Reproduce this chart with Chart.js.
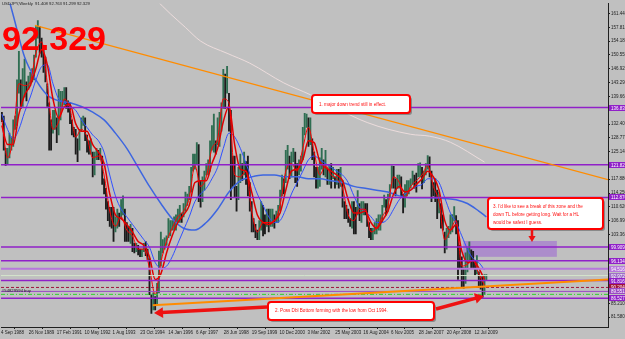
<!DOCTYPE html>
<html>
<head>
<meta charset="utf-8">
<script src="https://cdn.jsdelivr.net/npm/chart.js@4.4.0/dist/chart.umd.min.js"></script>
<style>
  html, body { margin: 0; padding: 0; background: #c0c0c0; }
  #wrap { width: 625px; height: 339px; position: relative; }
</style>
</head>
<body>
<div id="wrap"><canvas id="chart"></canvas></div>
<script>
// USDJPY weekly, sampled monthly from Sep 1988 (month 0) to Jan 2010
const highs = [
  135.5, 134.5, 126.0, 126.0,
  130, 129, 133.5, 134.5, 144, 151.5, 144, 147, 149.5, 143.5, 145, 146,
  147, 150.5, 158, 159.6, 158, 155, 152, 150, 143, 138, 133.5, 136,
  136, 134, 141.5, 141, 141, 142, 142, 138.5, 138, 133.5, 131.5, 131,
  128.5, 131, 134, 134.5, 134, 129.5, 128, 128.5, 125, 125, 126, 125.5,
  126, 124, 118, 115.5, 112, 110.5, 110.5, 110.5, 108, 110, 109, 112.5,
  113.5, 110, 106.5, 105.5, 106, 105, 101, 101, 100.5, 99.5, 99.5, 101,
  101.5, 99.5, 97, 87.5, 88, 87, 90.5, 99, 104, 102, 102.5, 103,
  107.5, 107, 107, 108, 108.5, 110, 111, 109, 111.5, 114.5, 114, 116,
  121, 124.5, 124.5, 127.5, 127, 117.5, 118.5, 120, 122, 123, 128, 132,
  135, 128, 134, 135.5, 138, 146.8, 145.5, 147.6, 140.5, 136, 124, 124,
  116, 121, 124.5, 122, 125, 122.5, 124, 117, 112, 107.5, 106, 104.5,
  107, 112, 111, 108.5, 110, 110, 110, 110, 108.5, 109.5, 111, 115,
  119, 118, 125.5, 126.8, 124, 125, 126, 125, 122, 123, 124, 131.5,
  135.2, 135, 134, 134, 128.5, 125, 121, 121, 123.5, 126, 123, 125.5,
  120.5, 121.5, 122, 121, 118.5, 120.5, 120.5, 121, 117.5, 112, 111, 110,
  107.5, 112, 112, 110.5, 114.9, 111.5, 112, 112, 111.5, 111.5, 106.5, 105,
  105, 106.5, 107.5, 108.5, 108.5, 111, 113.7, 112.5, 114, 116.5, 121.4, 121.3,
  118, 119, 119, 118.5, 114, 116.5, 117.5, 117.5, 118, 120, 119, 119.5,
  122, 122.2, 121, 120, 122, 124.1, 123.8, 120, 117, 118, 115, 114.5,
  111.5, 108.5, 104, 105, 105.5, 108.5, 108.6, 110.7, 108.3, 107, 100.5, 97.5,
  94.6, 98.5, 99.8, 101.4, 99.3, 98.9, 96.5, 97.8, 93.5, 92.3, 92.2, 92.8,
  92.8
];
const lows = [
  133.0, 125.5, 121.5, 121.8,
  123.5, 125.5, 126.5, 131, 132, 140.5, 136.5, 137, 139.5, 138.5, 141.5, 142.5,
  143.5, 144, 150, 155, 151, 150, 146, 143.5, 137, 125.5, 125.5, 130,
  131, 127.5, 129.5, 133.5, 136.5, 137.5, 136.5, 135.5, 132.5, 129.5, 129, 124.5,
  122.5, 125.5, 130.5, 132, 128, 125, 124.5, 124.5, 118.5, 119, 123, 123,
  123, 116.5, 114, 110, 107, 105.5, 105, 101.5, 104, 105, 105.5, 107.5,
  108.5, 101.5, 101.5, 101.5, 101, 98.8, 98.5, 98.8, 98, 97.5, 97.5, 98.8,
  97.8, 96.5, 87.5, 82.6, 83.5, 83.5, 85, 88, 95, 98.5, 99.5, 100.5,
  102.5, 103, 104.5, 104.5, 104.5, 106.5, 106.5, 106.5, 108, 109.5, 111, 112.5,
  114.5, 120, 120.5, 122, 112, 110.5, 112, 115, 119, 119, 120, 125.5,
  125, 124.5, 127, 126.5, 130.5, 136.5, 136.5, 140.5, 130.5, 112.5, 116, 113,
  109.5, 112.5, 117, 117.5, 119, 116.5, 113.5, 109.5, 104, 104, 102.5, 102,
  102, 104.5, 103, 103.5, 105.5, 104, 105.5, 105.5, 105, 106.5, 106.5, 109.5,
  113.5, 114, 117, 120.5, 118, 118.5, 122.5, 117, 116, 119, 120, 123,
  129.5, 131.5, 126.5, 127, 123, 118.5, 115.5, 115.5, 116, 120.5, 119, 118.5,
  116.5, 116.5, 115.5, 118, 115.5, 116.5, 115.5, 116, 110.5, 107.5, 107.5, 106.5,
  105.5, 105, 103.5, 103.5, 108.5, 107, 106.5, 108.5, 108.5, 105.5, 102.5, 102,
  102, 103.5, 103.5, 104.5, 104.5, 106.5, 110.5, 108.5, 109.5, 113, 115.5, 115.5,
  113.5, 115.5, 115.5, 113.5, 109, 110.5, 113.5, 114, 115.5, 116.5, 115.5, 114.5,
  118.5, 118.5, 115.3, 117, 119, 120.5, 118.5, 112, 113.5, 112, 107.5, 109,
  105, 104.5, 98.5, 99.5, 102.5, 103.5, 104, 106.9, 103.5, 91.5, 94.5, 89.5,
  89.2, 90.5, 93.5, 96.3, 94.5, 94.5, 92.5, 93, 89.5, 89, 86.8, 87.5,
  91.3
];

// moving averages, one value per quarter from Sep 1988
const redFast = [
  133.5, 123.5, 129, 143, 142.5, 143.5, 151, 154, 143, 131,
  133, 139, 136.5, 129, 131, 129, 123.5, 124, 119, 109.5,
  105.5, 108, 104.5, 103, 99.5, 99.5, 94.5, 87.5, 96, 101.5,
  105, 108, 109.5, 113, 121.5, 116, 118.5, 126, 128.5, 139,
  138, 119, 118.5, 120, 109.5, 104, 106.5, 106.5, 107, 111,
  120, 122, 120, 126, 131.5, 125, 119, 121.5, 119, 118,
  115.5, 108.5, 107, 110, 110, 104, 105, 108, 111, 118.5,
  117, 113, 116, 117.5, 119, 121.5, 116, 112, 102, 104.5,
  107, 95, 95.5, 96.5, 93, 90
];
const redSlow = [
  132, 127, 127, 135, 140, 142.5, 147, 152, 148, 139,
  134, 137, 137.5, 132.5, 130.5, 130.5, 127, 125, 122, 114,
  108.5, 107.5, 106, 104, 101.5, 100.5, 97.5, 91.5, 93, 98.5,
  103, 106.5, 108.5, 111, 117, 117.5, 117.5, 122, 126, 133,
  137, 127, 120.5, 120, 114.5, 108.5, 106.5, 106, 107, 109,
  115, 120, 120.5, 123, 128, 127.5, 122.5, 121, 120, 119,
  117.5, 112.5, 109, 109, 109.5, 106.5, 105, 107, 109.5, 114,
  116, 114.5, 115, 116.5, 118, 120, 118.5, 115, 107, 104.5,
  106, 99, 96, 96.5, 94.5, 91.5
];
const blueFast = [
  135, 131, 128.5, 131, 135.5, 139.5, 144, 147.5, 148, 143,
  139, 138, 137, 136, 133.5, 131.5, 129.5, 128, 125, 119,
  113.5, 110, 108, 106, 104, 102, 100, 96, 94.5, 95,
  97.5, 101, 104.5, 108, 112, 114, 115.5, 118, 121, 126,
  130, 129, 126, 122, 118, 114, 111, 108, 106.5, 107,
  110, 114, 117, 120, 123, 124, 123, 122, 121, 120,
  119, 117, 113.5, 110.5, 109.5, 108, 106.5, 106.5, 107.5, 110,
  112.5, 114, 115, 116, 116.5, 118, 118, 117, 113, 109,
  106.5, 103, 99.5, 97, 96, 94
];
// slow MA, one value every six months, last one Jan 2010
const blueSlowMonths = [0, 6, 12, 18, 24, 30, 36, 42, 48, 54, 60, 66, 72, 78, 84, 90, 96, 102, 108, 114, 120,
  126, 132, 138, 144, 150, 156, 162, 168, 174, 180, 186, 192, 198, 204, 210, 216, 222, 228, 234, 240, 246, 252, 256];
const blueSlow = [172, 161, 150, 144, 140, 138.5, 138, 137, 135.5, 133.5, 130, 126, 121, 116, 111.5, 107.5, 105,
  104.5, 106.5, 110, 114.5, 117.5, 118.5, 119, 119, 118.5, 118.5, 118, 118, 117.5, 117, 116, 115.5, 115,
  114.5, 113.5, 113, 113, 113, 112.8, 112.5, 111.5, 109.5, 108];
// very long MA (light line at the top)
const whiteMonths = [81, 89, 97, 105, 119, 131, 149, 163, 193, 216, 226, 237, 255];
const whiteMa = [165.3, 161.4, 157.8, 154.2, 151.0, 148.4, 143.2, 140.1, 132.8, 129.7, 129.2, 127.6, 122.4];

// horizontal levels and their axis tags
const levelValues = [136.74, 121.66, 113.08, 100.08, 96.44, 94.36, 92.54, 91.24, 89.42, 88.38, 87.60, 86.56];
const levelTags = ['136.832', '121.827', '112.876', '99.909', '96.134', '94.516', '92.972', '91.816', '90.204', '89.551', '', '86.527'];

const dateLabels = ['4 Sep 1988', '26 Nov 1989', '17 Feb 1991', '10 May 1992', '1 Aug 1993', '23 Oct 1994',
  '14 Jan 1996', '6 Apr 1997', '28 Jun 1998', '19 Sep 1999', '10 Dec 2000', '3 Mar 2002', '25 May 2003',
  '16 Aug 2004', '6 Nov 2005', '28 Jan 2007', '20 Apr 2008', '12 Jul 2009'];
const priceTicks = [161.44, 157.81, 154.18, 150.55, 146.92, 143.29, 139.66, 136.03, 132.40, 128.77, 125.14,
  121.51, 117.88, 114.25, 110.62, 106.99, 103.36, 99.73, 96.10, 92.47, 88.84, 85.21, 81.58];

// trend lines: [week, price] ends
const downTrend = [[78, 158.32], [1394.5, 117.76]];
const upTrend = [[348.6, 84.74], [1394.5, 91.5]];
const zone = { x0: 1062, x1: 1277, y0: 97.48, y1: 101.64 };

const WEEK_MAX = 1394.5;
const FONT = 'Liberation Sans, Arial, sans-serif';
const PURPLE = '#9020c8';

const wk = m => 2 + m * 4.348;

const candleData = highs.map((h, i) => ({ x: wk(i), y: [lows[i], h] }));
const candleColors = highs.map((h, i) => {
  if (i === 0) return '#1c1c1c';
  const mid = (h + lows[i]) / 2, prev = (highs[i - 1] + lows[i - 1]) / 2;
  return mid >= prev ? '#2f6e52' : '#1c1c1c';
});

const quarterly = arr => arr.map((v, i) => ({ x: wk(i * 3), y: v }));
const sampled = (months, vals) => vals.map((v, i) => ({ x: wk(months[i]), y: v }));

function maLine(data, color, width, order) {
  return {
    type: 'line', data, borderColor: color, borderWidth: width, pointRadius: 0,
    cubicInterpolationMode: 'monotone', order
  };
}

const levelStyles = [
  { color: PURPLE, width: 1.5 }, { color: PURPLE, width: 1.5 }, { color: PURPLE, width: 1.5 },
  { color: PURPLE, width: 1.5 }, { color: PURPLE, width: 1.5 }, { color: '#b676dc', width: 2 },
  { color: '#d4e6cc', width: 1 }, { color: PURPLE, width: 1.5 }, { color: '#a0143c', width: 1, dash: [3, 2] },
  { color: '#9a48c4', width: 1 }, { color: '#30d030', width: 1, dash: [4, 2, 1, 2] }, { color: PURPLE, width: 1.5 }
];

const levelSets = levelValues.map((v, i) => ({
  type: 'line',
  data: [{ x: 0, y: v }, { x: WEEK_MAX, y: v }],
  borderColor: levelStyles[i].color,
  borderWidth: levelStyles[i].width,
  borderDash: levelStyles[i].dash || [],
  pointRadius: 0,
  order: 2
}));

function trendSet(pts, width) {
  return {
    type: 'line', data: pts.map(p => ({ x: p[0], y: p[1] })),
    borderColor: '#ff8c00', borderWidth: width, pointRadius: 0, order: 1
  };
}

const bgPlugin = {
  id: 'bg',
  beforeDraw(chart) {
    const c = chart.ctx;
    c.save();
    c.fillStyle = '#c0c0c0';
    c.fillRect(0, 0, chart.width, chart.height);
    const { x, y } = chart.scales;
    c.fillStyle = 'rgba(168,132,204,0.85)';
    const px0 = x.getPixelForValue(zone.x0), px1 = x.getPixelForValue(zone.x1);
    const py0 = y.getPixelForValue(zone.y1), py1 = y.getPixelForValue(zone.y0);
    c.fillRect(px0, py0, px1 - px0, py1 - py0);
    c.restore();
  }
};

function roundBox(c, x0, y0, x1, y1) {
  c.save();
  c.fillStyle = 'rgba(90,90,90,0.55)';
  c.beginPath();
  c.roundRect(x0 + 2, y0 + 2, x1 - x0, y1 - y0, 3);
  c.fill();
  c.fillStyle = '#ffffff';
  c.strokeStyle = '#ff0000';
  c.lineWidth = 2;
  c.beginPath();
  c.roundRect(x0, y0, x1 - x0, y1 - y0, 3);
  c.fill();
  c.stroke();
  c.restore();
}

function arrow(c, x0, y0, x1, y1, w, head) {
  const a = Math.atan2(y1 - y0, x1 - x0);
  c.save();
  c.strokeStyle = '#ee1111';
  c.fillStyle = '#ee1111';
  c.lineWidth = w;
  c.beginPath();
  c.moveTo(x0, y0);
  c.lineTo(x1 - Math.cos(a) * head * 0.8, y1 - Math.sin(a) * head * 0.8);
  c.stroke();
  c.beginPath();
  c.moveTo(x1, y1);
  c.lineTo(x1 - head * Math.cos(a) + head * 0.6 * Math.sin(a), y1 - head * Math.sin(a) - head * 0.6 * Math.cos(a));
  c.lineTo(x1 - head * Math.cos(a) - head * 0.6 * Math.sin(a), y1 - head * Math.sin(a) + head * 0.6 * Math.cos(a));
  c.closePath();
  c.fill();
  c.restore();
}

const notePlugin = {
  id: 'notes',
  afterDraw(chart) {
    const c = chart.ctx;
    const y = chart.scales.y;
    const right = chart.chartArea.right;

    // axis tags for the levels
    c.save();
    c.font = '4.5px ' + FONT;
    c.textBaseline = 'middle';
    levelValues.forEach((v, i) => {
      if (!levelTags[i]) return;
      const py = Math.round(y.getPixelForValue(v));
      c.fillStyle = levelStyles[i].color === '#d4e6cc' ? '#a070c8' : levelStyles[i].color;
      c.fillRect(right + 1, py - 3, 17, 6);
      c.fillStyle = '#ffffff';
      c.fillText(levelTags[i], right + 3, py + 0.3);
    });
    c.restore();

    // header and big price
    c.save();
    c.fillStyle = '#202020';
    c.font = '4.2px ' + FONT;
    c.textBaseline = 'top';
    c.fillText('USDJPY,Weekly  91.408 92.763 91.299 92.329', 2, 2);
    c.fillText('#54829594 buy', 2, 289);
    c.fillStyle = '#ff0000';
    c.font = 'bold 34px ' + FONT;
    c.textBaseline = 'alphabetic';
    c.fillText('92.329', 2, 50);
    c.restore();

    // callout boxes
    c.save();
    roundBox(c, 312, 95, 410, 113);
    roundBox(c, 488, 198, 603, 229);
    roundBox(c, 268, 302, 434, 320);
    c.fillStyle = '#ff1010';
    c.font = '4.6px ' + FONT;
    c.textBaseline = 'middle';
    c.fillText('1. major down trend still in effect.', 319, 104.5);
    c.fillText("3. I'd like to see a break of this zone and the", 493, 207);
    c.fillText('down TL before getting long. Wait for a HL', 493, 215);
    c.fillText('would be safest I guess.', 493, 222.5);
    c.fillText('2. Poss Dbl Bottom forming with the low from Oct 1994.', 275, 311);
    c.restore();

    arrow(c, 267, 307, 154, 313, 3.5, 9);
    arrow(c, 436, 309, 484, 296, 3.5, 9);
    arrow(c, 532, 229, 532, 242, 2.5, 6);
  }
};

new Chart(document.getElementById('chart'), {
  type: 'bar',
  data: {
    datasets: [
      ...levelSets,
      trendSet(downTrend, 1.3),
      trendSet(upTrend, 2),
      maLine(sampled(whiteMonths, whiteMa), '#ecdcdc', 1, 3),
      maLine(quarterly(redFast), '#ff0000', 1, 4),
      maLine(quarterly(redSlow), '#e00000', 1.5, 5),
      maLine(quarterly(blueFast), '#3050ff', 1, 6),
      maLine(sampled(blueSlowMonths, blueSlow), '#3d66e0', 1.5, 7),
      {
        type: 'bar',
        data: candleData,
        backgroundColor: candleColors,
        barThickness: 1.2,
        order: 10
      }
    ]
  },
  options: {
    responsive: true,
    maintainAspectRatio: false,
    animation: false,
    layout: { padding: 0 },
    plugins: { legend: { display: false }, tooltip: { enabled: false } },
    scales: {
      x: {
        type: 'linear',
        min: 0,
        max: WEEK_MAX,
        offset: false,
        grid: { display: true, drawOnChartArea: false, tickLength: 2, color: '#202020' },
        border: { display: true, color: '#202020' },
        afterBuildTicks: s => { s.ticks = dateLabels.map((l, k) => ({ value: k * 64 })); },
        afterFit: s => { s.height = 12; },
        ticks: {
          autoSkip: false, maxRotation: 0, align: 'start', padding: 1,
          color: '#202020', font: { family: FONT, size: 4.5 },
          callback: (v, i) => dateLabels[i]
        }
      },
      y: {
        position: 'right',
        min: 79.02,
        max: 164.04,
        grid: { display: true, drawOnChartArea: false, tickLength: 2, color: '#202020' },
        border: { display: true, color: '#202020' },
        afterBuildTicks: s => { s.ticks = priceTicks.map(v => ({ value: v })); },
        afterFit: s => { s.width = 17; },
        ticks: {
          autoSkip: false, padding: 1, color: '#202020',
          font: { family: FONT, size: 4.5 },
          callback: v => v.toFixed(3)
        }
      }
    }
  },
  plugins: [bgPlugin, notePlugin]
});
</script>
</body>
</html>
